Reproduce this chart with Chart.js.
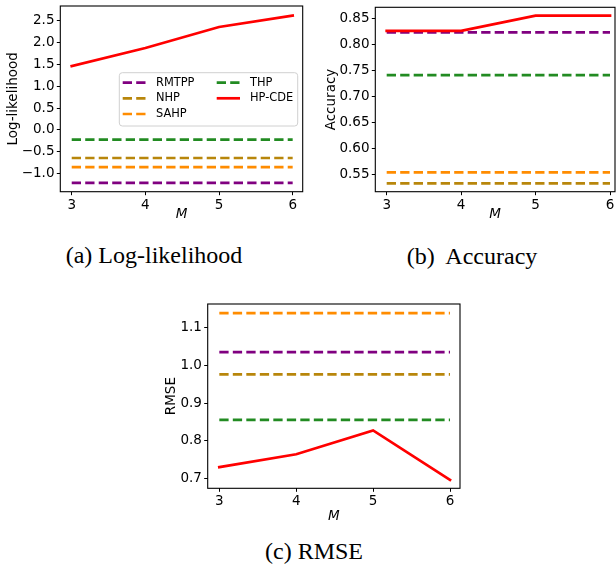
<!DOCTYPE html>
<html>
<head>
<meta charset="utf-8">
<script src="https://cdn.jsdelivr.net/npm/chart.js@4.4.1/dist/chart.umd.min.js"></script>
<style>
 html,body{margin:0;padding:0;background:#fff;}
 #fig{position:relative;width:616px;height:566px;overflow:hidden;}
 .pane{position:absolute;}
 .cap{position:absolute;width:300px;text-align:center;font-family:"Liberation Serif","Times New Roman",serif;font-size:24px;line-height:24px;color:#000;white-space:nowrap;}
</style>
</head>
<body>
<div id="fig">
 <div class="pane" style="left:0;top:0"><canvas id="cLL" width="310" height="232"></canvas></div>
 <div class="pane" style="left:310px;top:0"><canvas id="cAcc" width="306" height="232"></canvas></div>
 <div class="pane" style="left:150px;top:290px"><canvas id="cRmse" width="320" height="235"></canvas></div>
 <div class="cap" style="left:4px;top:243px">(a) Log-likelihood</div>
 <div class="cap" style="left:322px;top:244px">(b)&nbsp; Accuracy</div>
 <div class="cap" style="left:164px;top:539px">(c) RMSE</div>
</div>
<script>
/* ---------------- data ---------------- */
const M_VALUES=[3,4,5,6];
const MODELS=["RMTPP","NHP","SAHP","THP","HP-CDE"];
const COLORS=["#800080","#b8860b","#ff8c00","#228b22","#ff0000"];

const LL_RMTPP=[-1.21,-1.21,-1.21,-1.21];
const LL_NHP=[-0.64,-0.64,-0.64,-0.64];
const LL_SAHP=[-0.85,-0.85,-0.85,-0.85];
const LL_THP=[-0.22,-0.22,-0.22,-0.22];
const LL_HPCDE=[1.46,1.87,2.35,2.61];
const LL_TICKS=[-1.0,-0.5,0.0,0.5,1.0,1.5,2.0,2.5];

const ACC_RMTPP=[0.823,0.823,0.823,0.823];
const ACC_NHP=[0.534,0.534,0.534,0.534];
const ACC_SAHP=[0.555,0.555,0.555,0.555];
const ACC_THP=[0.741,0.741,0.741,0.741];
const ACC_HPCDE=[0.826,0.826,0.855,0.855];
const ACC_TICKS=[0.55,0.60,0.65,0.70,0.75,0.80,0.85];

const RMSE_RMTPP=[1.035,1.035,1.035,1.035];
const RMSE_NHP=[0.976,0.976,0.976,0.976];
const RMSE_SAHP=[1.138,1.138,1.138,1.138];
const RMSE_THP=[0.856,0.856,0.856,0.856];
const RMSE_HPCDE=[0.731,0.765,0.828,0.697];
const RMSE_TICKS=[0.7,0.8,0.9,1.0,1.1];

/* ---------------- helpers ---------------- */
const FONT="'DejaVu Sans', sans-serif";
const minus=s=>s.replace("-","\u2212");

function sets(series){
 return MODELS.map((n,i)=>{
  const solid=n==="HP-CDE";
  return {label:n,data:M_VALUES.map((m,j)=>({x:m,y:series[i][j]})),
   borderColor:COLORS[i],backgroundColor:COLORS[i],borderWidth:2.7,
   borderDash:solid?[]:[9.3,4.2],borderCapStyle:solid?"square":"butt",
   pointRadius:0,tension:0,fill:false,order:solid?0:i+1};
 });
}
// no label overflow padding, so the plot box lands exactly where we put it
const noPad=s=>{s.paddingTop=s.paddingBottom=s.paddingLeft=s.paddingRight=0;};

// black box around the plot area (matplotlib spines)
const frame={id:"frame",afterDatasetsDraw(c){
 const a=c.chartArea,x=c.ctx; x.save(); x.strokeStyle="#000"; x.lineWidth=1.1;
 x.strokeRect(a.left,a.top,a.right-a.left,a.bottom-a.top); x.restore();}};

// matplotlib-like legend inside the plot, 2 columns filled column-wise
const boxLegend={id:"boxLegend",afterDraw(c,args,o){
 if(!o||!o.show)return;
 const a=c.chartArea,x=c.ctx,L=a.left+o.dx,T=a.top+o.dy,W=o.w,H=o.h;
 x.save();
 x.beginPath(); x.roundRect(L,T,W,H,3);
 x.fillStyle="rgba(255,255,255,0.8)"; x.fill();
 x.strokeStyle="#d0d0d0"; x.lineWidth=1; x.stroke();
 const rows=[10,25.6,41.3],cols=[3.4,97.4];
 x.font="11.4px "+FONT; x.textBaseline="middle"; x.fillStyle="#000";
 c.data.datasets.forEach((d,i)=>{
  const col=i<3?0:1,row=i<3?i:i-3,y=T+rows[row],x0=L+cols[col];
  x.beginPath(); x.setLineDash(d.borderDash); x.lineCap="butt";
  x.strokeStyle=d.borderColor; x.lineWidth=d.borderWidth;
  x.moveTo(x0,y); x.lineTo(x0+23.3,y); x.stroke(); x.setLineDash([]);
  x.fillText(d.label,x0+33.3,y);
 });
 x.restore();}};

function panel(id,o){
 const tickFont={family:FONT,size:13.5};
 return new Chart(document.getElementById(id),{
  type:"line",
  data:{datasets:sets(o.series)},
  plugins:[frame,boxLegend],
  options:{responsive:false,animation:false,devicePixelRatio:1,
   layout:{padding:{left:0,top:o.padTop,right:o.padRight,bottom:0}},
   plugins:{legend:{display:false},tooltip:{enabled:false},boxLegend:o.legend||{show:false}},
   scales:{
    x:{type:"linear",min:o.xMin,max:o.xMax,
     afterBuildTicks:s=>{s.ticks=M_VALUES.map(v=>({value:v}));},
     afterFit:s=>{s.height=o.xH;noPad(s);},
     grid:{display:true,drawOnChartArea:false,drawTicks:true,tickLength:3.5,color:"#000",tickWidth:1},
     border:{display:false},
     ticks:{color:"#000",font:tickFont,padding:2,maxRotation:0,callback:v=>String(v)},
     title:{display:true,text:"M",color:"#000",font:{family:FONT,size:13.5,style:"italic"},padding:{top:0,bottom:o.mPad}}},
    y:{type:"linear",min:o.yMin,max:o.yMax,
     afterBuildTicks:s=>{s.ticks=o.ticks.map(v=>({value:v}));},
     afterFit:s=>{s.width=o.yW;noPad(s);},
     grid:{display:true,drawOnChartArea:false,drawTicks:true,tickLength:3.5,color:"#000",tickWidth:1},
     border:{display:false},
     ticks:{color:"#000",font:tickFont,padding:2.3,callback:v=>minus(v.toFixed(o.dec))},
     title:{display:true,text:o.yLabel,color:"#000",font:{family:FONT,size:13.5},padding:{top:o.yPad,bottom:0}}}
   }}});
}

/* ---------------- boot ---------------- */
panel("cLL",{series:[LL_RMTPP,LL_NHP,LL_SAHP,LL_THP,LL_HPCDE],ticks:LL_TICKS,dec:1,
 yLabel:"Log-likelihood",yMin:-1.41,yMax:2.83,xMin:2.845,xMax:6.136,
 yW:60.3,xH:40.3,padTop:6,padRight:7.3,yPad:5.2,mPad:9.9,
 legend:{show:true,dx:59,dy:66.7,w:178.4,h:53.3}});
panel("cAcc",{series:[ACC_RMTPP,ACC_NHP,ACC_SAHP,ACC_THP,ACC_HPCDE],ticks:ACC_TICKS,dec:2,
 yLabel:"Accuracy",yMin:0.518,yMax:0.871,xMin:2.847,xMax:6.067,
 yW:65.3,xH:40.3,padTop:7.3,padRight:1,yPad:13.4,mPad:9.9});
panel("cRmse",{series:[RMSE_RMTPP,RMSE_NHP,RMSE_SAHP,RMSE_THP,RMSE_HPCDE],ticks:RMSE_TICKS,dec:1,
 yLabel:"RMSE",yMin:0.675,yMax:1.162,xMin:2.849,xMax:6.13,
 yW:57.7,xH:36.7,padTop:14,padRight:10,yPad:13.6,mPad:0.9});
</script>
</body>
</html>
